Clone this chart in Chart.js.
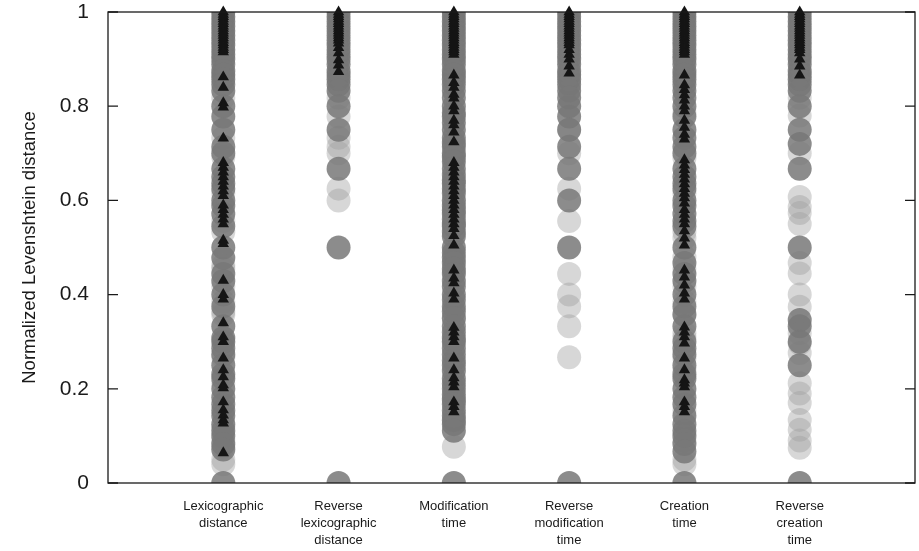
<!DOCTYPE html>
<html>
<head>
<meta charset="utf-8">
<script src="https://cdn.jsdelivr.net/npm/chart.js@4/dist/chart.umd.min.js"></script>
<style>
    html, body { margin: 0; padding: 0; background: #fff; }
</style>
</head>
<body>
<canvas id="myChart" width="919" height="551"></canvas>
<script>
/* 정렬 방식별 정규화 레벤슈타인 거리 */
const categories = [
    ['Lexicographic', 'distance'],
    ['Reverse', 'lexicographic', 'distance'],
    ['Modification', 'time'],
    ['Reverse', 'modification', 'time'],
    ['Creation', 'time'],
    ['Reverse', 'creation', 'time']
];
const yTicks = [0, 0.2, 0.4, 0.6, 0.8, 1];

// 진한 원 (빈도 높음)
const topBand = [1, .99, .98, .97, .96, .95, .94, .93, .92, .91, .9, .889, .875, .867, .857];
const darkLex = topBand.concat([.846, .833, .8, .778, .75, .714, .7, .667, .65, .636, .625, .6, .588, .571, .545, .5, .478, .444, .429, .4, .375, .333, .308, .3, .286, .273, .25, .231, .222, .2, .182, .167, .154, .143, .125, .111, .1, .083, .071, 0]);
const darkRevLex = topBand.concat([.846, .833, .8, .75, .667, .5, 0]);
const darkMod = topBand.concat([.846, .833, .818, .8, .786, .778, .765, .75, .733, .722, .714, .7, .692, .682, .667, .654, .643, .636, .625, .615, .6, .588, .579, .571, .56, .55, .545, .533, .524, .5, .489, .478, .467, .455, .444, .429, .417, .4, .389, .375, .364, .35, .333, .32, .308, .3, .286, .273, .26, .25, .238, .222, .211, .2, .188, .176, .167, .154, .143, .133, .125, .111, 0]);
const darkRevMod = topBand.concat([.846, .833, .818, .8, .778, .75, .714, .667, .6, .5, 0]);
const darkCre = topBand.concat([.846, .833, .818, .8, .778, .75, .733, .714, .7, .667, .65, .636, .625, .6, .588, .571, .556, .545, .5, .467, .444, .429, .4, .375, .357, .333, .3, .286, .273, .25, .231, .222, .2, .182, .167, .143, .125, .111, .1, .083, .067, 0]);
const darkRevCre = topBand.concat([.846, .833, .8, .75, .72, .667, .5, .346, .333, .3, .25, 0]);

// 연한 원 (빈도 낮음)
const lightLex = [.818, .733, .692, .615, .556, .533, .462, .455, .417, .385, .364, .357, .267, .211, .118, .091, .077, .05, .04];
const lightRevLex = [.818, .778, .733, .714, .7, .625, .6];
const lightMod = [.6, .45, .35, .3, .18, .077];
const lightRevMod = [.75, .7, .625, .556, .444, .4, .375, .333, .267];
const lightCre = [.786, .69, .615, .533, .52, .48, .455, .417, .385, .36, .318, .308, .265, .24, .154, .091, .05, .04];
const lightRevCre = [.818, .78, .7, .607, .586, .573, .55, .467, .445, .4, .374, .318, .296, .276, .212, .19, .17, .134, .113, .09, .075];

// 삼각형 표식
const triTop = [1, .995, .99, .985, .98, .975, .97, .965, .96, .955, .95, .945, .94];
const triLex = triTop.concat([.935, .93, .925, .92, .915, .862, .84, .807, .798, .732, .68, .67, .66, .65, .64, .63, .62, .61, .59, .58, .57, .56, .55, .515, .508, .43, .4, .39, .34, .31, .3, .265, .24, .225, .208, .202, .172, .155, .144, .134, .127, .064]);
const triRevLex = triTop.concat([.934, .924, .913, .898, .887, .873]);
const triMod = triTop.concat([.935, .93, .925, .92, .915, .91, .866, .85, .84, .825, .817, .8, .79, .77, .76, .745, .724, .68, .67, .66, .65, .64, .63, .62, .61, .6, .59, .58, .57, .56, .55, .54, .525, .505, .452, .435, .425, .403, .39, .33, .32, .31, .3, .265, .24, .223, .214, .204, .172, .162, .151]);
const triRevMod = triTop.concat([.935, .93, .92, .91, .9, .885, .87]);
const triCre = triTop.concat([.935, .93, .925, .92, .915, .91, .866, .845, .835, .824, .813, .8, .79, .77, .755, .74, .73, .686, .675, .665, .655, .645, .635, .625, .615, .605, .594, .58, .57, .56, .55, .535, .52, .505, .452, .437, .42, .403, .39, .331, .32, .31, .297, .265, .24, .219, .212, .204, .172, .162, .151]);
const triRevCre = triTop.concat([.935, .93, .925, .92, .913, .9, .885, .866]);

const darkList = [darkLex, darkRevLex, darkMod, darkRevMod, darkCre, darkRevCre];
const lightList = [lightLex, lightRevLex, lightMod, lightRevMod, lightCre, lightRevCre];
const triList = [triLex, triRevLex, triMod, triRevMod, triCre, triRevCre];

function toPoints(lists) {
    let pts = [];
    for (let i = 0; i < lists.length; i++) {
        for (let j = 0; j < lists[i].length; j++) {
            pts.push({x: i + 1, y: lists[i][j]});
        }
    }
    return pts;
}

const fontFamily = '"Liberation Sans", Arial, Helvetica, sans-serif';

// 테두리 + 안쪽 눈금
const frame = {
    id: 'frame',
    afterDatasetsDraw(chart) {
        let ctx = chart.ctx;
        let a = chart.chartArea;
        let y = chart.scales.y;
        ctx.save();
        ctx.strokeStyle = '#1a1a1a';
        ctx.lineWidth = 1.3;
        ctx.strokeRect(a.left, a.top, a.right - a.left, a.bottom - a.top);
        ctx.beginPath();
        yTicks.forEach(function (v) {
            let py = y.getPixelForValue(v);
            ctx.moveTo(a.left, py);
            ctx.lineTo(a.left + 10, py);
            ctx.moveTo(a.right, py);
            ctx.lineTo(a.right - 10, py);
        });
        ctx.stroke();
        ctx.restore();
    }
};

let ctx = document.getElementById('myChart').getContext('2d');

let myChart = new Chart(ctx, {
    type: 'scatter',
    data: {
        datasets: [{
            label: 'light',
            data: toPoints(lightList),
            pointStyle: 'circle',
            pointRadius: 12,
            borderWidth: 0,
            backgroundColor: 'rgba(160, 160, 160, 0.42)',
            clip: 0,
            order: 3
        }, {
            label: 'dark',
            data: toPoints(darkList),
            pointStyle: 'circle',
            pointRadius: 12,
            borderWidth: 0,
            backgroundColor: 'rgba(120, 120, 120, 0.85)',
            clip: 0,
            order: 2
        }, {
            label: 'triangle',
            data: toPoints(triList),
            pointStyle: 'triangle',
            pointRadius: 6.6,
            borderWidth: 0,
            backgroundColor: '#151515',
            clip: false,
            order: 1
        }]
    },
    options: {
        responsive: false,
        animation: false,
        layout: {
            autoPadding: false,
            padding: {top: 12, right: 4, left: 0, bottom: 0}
        },
        plugins: {
            legend: {display: false},
            tooltip: {enabled: false}
        },
        scales: {
            x: {
                type: 'linear',
                min: 0,
                max: 7,
                grid: {display: false, drawTicks: false},
                border: {display: false},
                afterBuildTicks: function (scale) {
                    scale.ticks = categories.map(function (c, i) {
                        return {value: i + 1};
                    });
                },
                afterFit: function (scale) {
                    scale.height = 68;
                    scale.paddingLeft = 0;
                    scale.paddingRight = 0;
                },
                ticks: {
                    autoSkip: false,
                    maxRotation: 0,
                    padding: 15,
                    color: '#1a1a1a',
                    font: {family: fontFamily, size: 13, lineHeight: 1.3},
                    callback: function (value) {
                        return categories[value - 1] || '';
                    }
                }
            },
            y: {
                min: 0,
                max: 1,
                grid: {display: false, drawTicks: false},
                border: {display: false},
                afterBuildTicks: function (scale) {
                    scale.ticks = yTicks.map(function (v) {
                        return {value: v};
                    });
                },
                afterFit: function (scale) {
                    scale.width = 108;
                    scale.paddingTop = 0;
                    scale.paddingBottom = 0;
                },
                ticks: {
                    padding: 19,
                    color: '#1a1a1a',
                    font: {family: fontFamily, size: 21},
                    callback: function (value) {
                        return String(Math.round(value * 10) / 10);
                    }
                },
                title: {
                    display: true,
                    text: 'Normalized Levenshtein distance',
                    color: '#1a1a1a',
                    font: {family: fontFamily, size: 18.5},
                    padding: {top: 19, bottom: 0}
                }
            }
        }
    },
    plugins: [frame]
});
</script>
</body>
</html>
